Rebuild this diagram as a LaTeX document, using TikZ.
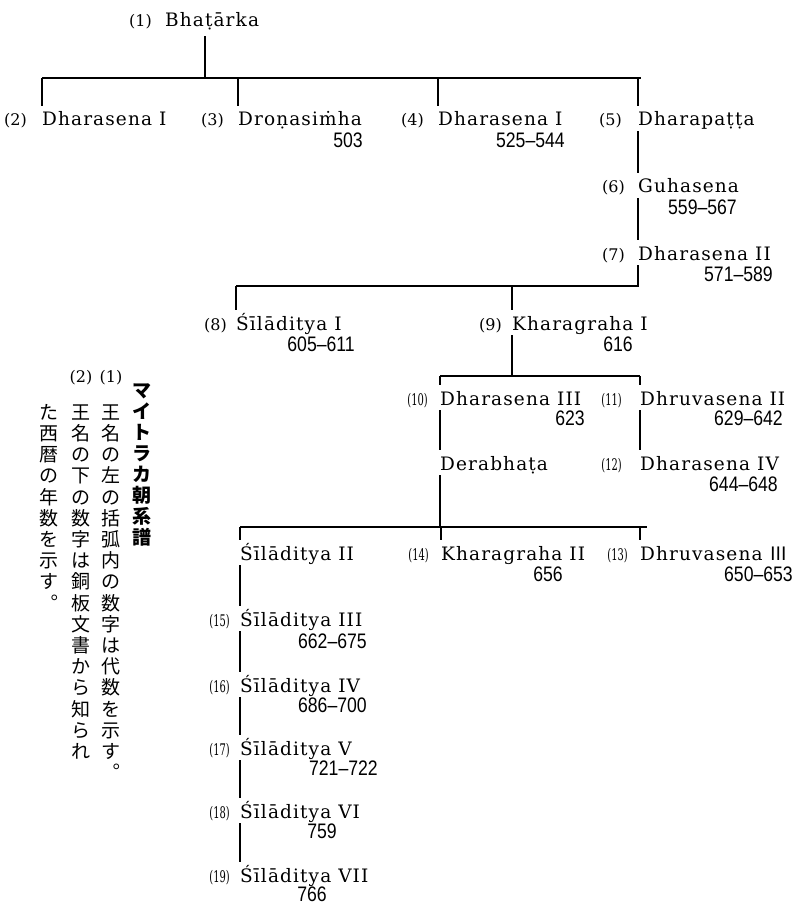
\documentclass[tikz,border=0pt]{standalone}
\usepackage{fontspec}
\setmainfont{DejaVu Serif}[LetterSpace=6]
\newfontfamily\numfont{Liberation Sans}[FakeStretch=0.84]
\newfontfamily\lblfont{DejaVu Serif}
\newfontfamily\lblnarrow{DejaVu Serif}[FakeStretch=0.62]
\newfontfamily\cjk{Noto Sans CJK JP}
\begin{document}
\begin{tikzpicture}[x=1pt,y=-1pt,
  nm/.style={anchor=base west, inner sep=0pt, text height=20pt, text depth=5pt, font=\fontsize{18.5}{22}\selectfont},
  yr/.style={anchor=base east, inner sep=0pt, font={\numfont\fontsize{21}{24}\selectfont}},
  lb/.style={anchor=base east, inner sep=0pt, font={\lblfont\fontsize{16}{18}\selectfont}},
  lbn/.style={anchor=base east, inner sep=0pt, font={\lblnarrow\fontsize{16}{18}\selectfont}},
  tl/.style={line width=1.1pt, line cap=butt},
  jc/.style={inner sep=0pt, text height=16.7pt, text depth=2.3pt, font={\cjk\fontsize{19}{21}\selectfont}},
  jt/.style={jc, font={\cjk\bfseries\fontsize{19}{21}\selectfont}},
  jl/.style={inner sep=0pt, font={\lblfont\fontsize{16}{18}\selectfont}}]
\fill[white] (0,0) rectangle (800,904);
% generation 1
\node[nm] (n1) at (165,27) {Bhaṭārka};
\node[lb] (l1) at (152,27) {(1)};
\coordinate (j0) at (205,78);
\coordinate (h1a) at (42,78);
\coordinate (h1b) at (641,78);
\draw[tl] (h1a) -- (h1b);
\draw[tl, shorten <=4pt] (n1.south -| j0) -- (j0);
% generation 2
\node[nm] (n2) at (42,126) {Dharasena I};
\node[lb] (l2) at (27,126) {(2)};
\node[nm] (n3) at (238,126) {Droṇasiṁha};
\node[lb] (l3) at (224,126) {(3)};
\node[yr] (y3) at (363,148) {503};
\node[nm] (n4) at (438,126) {Dharasena I};
\node[lb] (l4) at (424,126) {(4)};
\node[yr] (y4) at (565,148) {525–544};
\node[nm] (n5) at (638,126) {Dharapaṭṭa};
\node[lb] (l5) at (622,126) {(5)};
\foreach \n in {n2,n3,n4,n5} \draw[tl] (\n.north west |- h1a) -- (\n.north west);
% chain
\node[nm] (n6) at (638,193) {Guhasena};
\node[lb] (l6) at (625,193) {(6)};
\node[yr] (y6) at (737,214) {559–567};
\node[nm] (n7) at (638,260) {Dharasena II};
\node[lb] (l7) at (625,260) {(7)};
\node[yr] (y7) at (773,281) {571–589};
\draw[tl] (n5.south west) -- (n6.north west);
\draw[tl] (n6.south west) -- (n7.north west);
\coordinate (h2a) at (236,286);
\coordinate (h2b) at (638,286);
\draw[tl] (n7.south west) -- (h2b) -- (h2a);
% generation 8/9
\node[nm] (n8) at (236,330) {Śīlāditya I};
\node[lb] (l8) at (227,330) {(8)};
\node[yr] (y8) at (355,351) {605–611};
\node[nm] (n9) at (512,330) {Kharagraha I};
\node[lb] (l9) at (502,330) {(9)};
\node[yr] (y9) at (633,351) {616};
\foreach \n in {n8,n9} \draw[tl] (\n.north west |- h2a) -- (\n.north west);
\coordinate (h3a) at (440,376);
\coordinate (h3b) at (640,376);
\draw[tl] (n9.south west) -- (n9.south west |- h3a);
\draw[tl] (h3a) -- (h3b);
% generation 10/11
\node[nm] (n10) at (440,405) {Dharasena III};
\node[lbn] (l10) at (428,405) {(10)};
\node[yr] (y10) at (585,425) {623};
\node[nm] (n11) at (640,405) {Dhruvasena II};
\node[lbn] (l11) at (622,405) {(11)};
\node[yr] (y11) at (783,425) {629–642};
\foreach \n in {n10,n11} \draw[tl] (\n.north west |- h3a) -- (\n.north west);
\node[nm] (nd) at (440,470) {Derabhaṭa};
\node[nm] (n12) at (640,470) {Dharasena IV};
\node[lbn] (l12) at (622,470) {(12)};
\node[yr] (y12) at (778,491) {644–648};
\draw[tl] (n10.south west) -- (nd.north west);
\draw[tl] (n11.south west) -- (n12.north west);
\coordinate (h4a) at (240,527);
\coordinate (h4b) at (647,527);
\draw[tl] (nd.south west) -- (nd.south west |- h4a);
\draw[tl] (h4a) -- (h4b);
% generation 13/14
\node[nm] (ns2) at (240,560) {Śīlāditya II};
\node[nm] (n14) at (441,560) {Kharagraha II};
\node[lbn] (l14) at (429,560) {(14)};
\node[yr] (y14) at (563,581) {656};
\node[nm] (n13) at (640,560) {Dhruvasena {\cjk Ⅲ}};
\node[lbn] (l13) at (628,560) {(13)};
\node[yr] (y13) at (793,581) {650–653};
\foreach \n in {ns2,n14,n13} \draw[tl] (\n.north west |- h4a) -- (\n.north west);
% Siladitya chain
\node[nm] (n15) at (240,626) {Śīlāditya III};
\node[lbn] (l15) at (230,626) {(15)};
\node[yr] (y15) at (367,648) {662–675};
\node[nm] (n16) at (240,692) {Śīlāditya IV};
\node[lbn] (l16) at (230,692) {(16)};
\node[yr] (y16) at (367,712) {686–700};
\node[nm] (n17) at (240,755) {Śīlāditya V};
\node[lbn] (l17) at (230,755) {(17)};
\node[yr] (y17) at (378,775) {721–722};
\node[nm] (n18) at (240,818) {Śīlāditya VI};
\node[lbn] (l18) at (230,818) {(18)};
\node[yr] (y18) at (337,838) {759};
\node[nm] (n19) at (240,882) {Śīlāditya VII};
\node[lbn] (l19) at (230,882) {(19)};
\node[yr] (y19) at (327,901) {766};
\draw[tl] (ns2.south west) -- (n15.north west);
\draw[tl] (n15.south west) -- (n16.north west);
\draw[tl] (n16.south west) -- (n17.north west);
\draw[tl] (n17.south west) -- (n18.north west);
\draw[tl] (n18.south west) -- (n19.north west);
% vertical Japanese notes
\foreach \c [count=\i from 0] in {マ,イ,ト,ラ,カ,朝,系,譜}
  \node[jt] (jt\i) at (142,{390+21*\i}) {\c};
\node[jl] (jl1) at (111,378) {(1)};
\node[jl] (jl2) at (81,378) {(2)};
\foreach \c [count=\i from 0] in {王,名,の,左,の,括,弧,内,の,数,字,は,代,数,を,示,す,︒}
  \node[jc] (ja\i) at (111,{412+21.2*\i}) {\c};
\foreach \c [count=\i from 0] in {王,名,の,下,の,数,字,は,銅,板,文,書,か,ら,知,ら,れ}
  \node[jc] (jb\i) at (81,{412+21.2*\i}) {\c};
\foreach \c [count=\i from 0] in {た,西,暦,の,年,数,を,示,す,︒}
  \node[jc] (jd\i) at (49,{412+21.2*\i}) {\c};
\end{tikzpicture}
\end{document}
